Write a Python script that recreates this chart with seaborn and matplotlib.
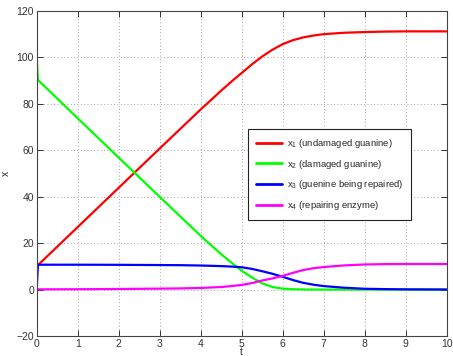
import matplotlib
matplotlib.use("Agg")
import seaborn as sns
import matplotlib.pyplot as plt

# time samples and values
t = [0, 0.03, 1, 2, 3, 3.5, 4, 4.5, 4.75, 5, 5.25, 5.5, 5.75, 6, 6.25, 6.5, 6.75,
     7, 7.5, 8, 8.5, 9, 10]
x1 = [10, 10.5, 26.9, 43.8, 60.7, 69.1, 77.5, 85.6, 89.5, 93.2, 96.9, 100.3, 103.2,
      105.6, 107.3, 108.5, 109.3, 109.9, 110.5, 110.8, 111.0, 111.1, 111.1]
x2 = [100, 90.2, 73.7, 56.8, 39.9, 31.5, 23.1, 15.2, 11.6, 8.1, 5.2, 2.7, 1.1,
      0.4, 0.15, 0.05, 0.02, 0, 0, 0, 0, 0, 0]
x3 = [0, 10.7, 10.7, 10.65, 10.55, 10.5, 10.35, 10.1, 9.9, 9.6, 8.9, 7.9, 6.8,
      5.5, 4.1, 2.9, 2.1, 1.5, 0.8, 0.35, 0.2, 0.1, 0.02]
x4 = [0, 0.1, 0.15, 0.25, 0.4, 0.5, 0.7, 1.1, 1.5, 2.0, 2.8, 3.9, 4.8,
      5.9, 7.2, 8.4, 9.2, 9.7, 10.4, 10.8, 10.95, 11.0, 11.0]

labels = [r"$\mathregular{x_1}$ (undamaged guanine)",
          r"$\mathregular{x_2}$ (damaged guanine)",
          r"$\mathregular{x_3}$ (guenine being repaired)",
          r"$\mathregular{x_4}$ (repairing enzyme)"]
colors = ["#ff0000", "#00ff00", "#0000ff", "#ff00ff"]

sns.set_style("ticks")
plt.rcParams["font.family"] = ["Liberation Sans", "DejaVu Sans"]
plt.rcParams["mathtext.fontset"] = "custom"
plt.rcParams["mathtext.rm"] = "Liberation Sans"

fig = plt.figure(figsize=(4.53, 3.56), dpi=100)
ax = fig.add_axes([0.081, 0.056, 0.905, 0.914])

for y, lab, c in zip([x1, x2, x3, x4], labels, colors):
    sns.lineplot(x=t, y=y, color=c, label=lab, linewidth=1.6, ax=ax)

ax.set_xlim(0, 10)
ax.set_ylim(-20, 120)
ax.set_xticks(range(0, 11))
ax.set_yticks(range(-20, 121, 20))
ax.grid(True, linestyle=(0, (1, 3)), color="#888888", linewidth=0.6)
ax.tick_params(direction="in", top=True, right=True, length=4, width=0.7,
               labelsize=7.5, colors="#333333", pad=2)
for sp in ax.spines.values():
    sp.set_color("#444444")
    sp.set_linewidth(0.8)

ax.set_xlabel("t", fontsize=7, labelpad=-1)
ax.set_ylabel("x", fontsize=7.5)
ax.yaxis.set_label_coords(-0.063, 0.5)

leg = ax.legend(loc="upper left", bbox_to_anchor=(0.515, 0.636), fontsize=6.8,
                frameon=True, fancybox=False, framealpha=1, edgecolor="#222222",
                handlelength=2.8, labelspacing=0.8, borderpad=0.85,
                handletextpad=0.5, borderaxespad=0)
leg.get_frame().set_linewidth(0.8)
for ln in leg.get_lines():
    ln.set_linewidth(2)

fig.savefig("out.png", dpi=100)
